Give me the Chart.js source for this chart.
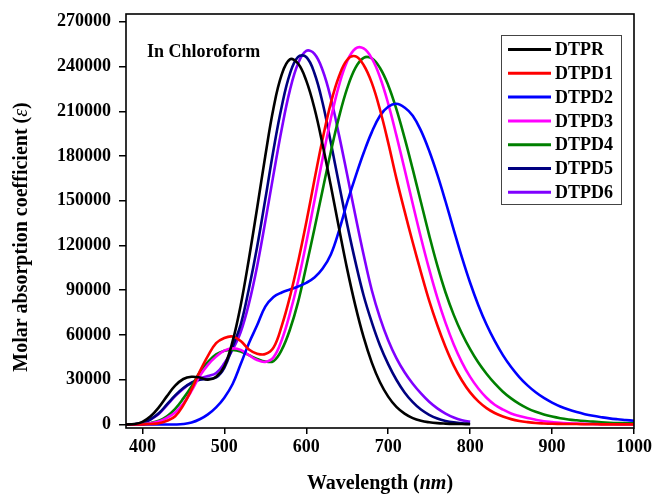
<!DOCTYPE html>
<html><head><meta charset="utf-8">
<script src="https://cdn.jsdelivr.net/npm/chart.js@4.4.1/dist/chart.umd.min.js"></script>
<style>html,body{margin:0;padding:0;background:#fff}</style>
</head><body>
<canvas id="c" width="652" height="494"></canvas>
<script>
// ---- data ----
const wavelengths = [380,390,400,410,420,430,440,450,460,470,480,490,500,510,520,530,540,550,560,570,580,590,600,610,620,630,640,650,660,670,680,690,700,710,720,730,740,750,760,770,780,790,800,810,820,830,840,850,860,870,880,890,900,910,920,930,940,950,960,970,980,990,1000];
const seriesNames = ["DTPR","DTPD1","DTPD2","DTPD3","DTPD4","DTPD5","DTPD6"];
const xTicks = [400,500,600,700,800,900,1000];
const yTicks = [0,30000,60000,90000,120000,150000,180000,210000,240000,270000];

const DTPR = [0,300,1800,5500,11500,19000,26000,30500,32000,31500,
  30000,32000,39000,55500,80000,111000,145000,180000,212000,234500,
  244800,242000,230500,212000,187500,160000,131500,104000,79500,58500,
  41500,28300,18700,11800,7300,4300,2500,1500,900,600,
  400,300,200];
const DTPD1 = [0,0,0,300,800,2500,5500,13000,23500,35500,
  46000,54500,58000,59000,56000,50300,47500,47200,51500,66000,
  85500,109000,135500,164000,191500,215500,233500,244500,246800,241000,
  229000,211000,189000,165000,143000,122000,102000,83000,66500,52000,
  39500,29500,21500,15500,11000,7700,5300,3600,2400,1600,
  1000,700,500,400,300,300,200,200,100,100,
  100,100,100];
const DTPD2 = [0,0,0,0,0,0,0,300,1300,3500,
  6800,11500,18000,27000,40500,54500,66500,79000,85500,88500,
  90500,92500,95000,98500,104500,114000,130000,149000,166000,182000,
  196000,207000,213000,215000,212500,207000,197000,183500,167500,149500,
  130500,112000,95000,80000,67000,56000,46500,38500,31800,26200,
  21600,17800,14700,12100,10000,8300,6900,5800,4900,4100,
  3500,3000,2500];
const DTPD3 = [0,0,200,800,2000,4500,8000,14000,22500,32500,
  40000,45500,49500,51000,50000,46500,43200,42000,45000,56500,
  74300,96000,121800,150000,178400,205000,227400,243600,252000,252100,
  245400,232800,215100,193800,171100,147800,125200,104100,84900,68100,
  53700,41700,31900,24100,17900,13200,10000,7400,5700,4300,
  3200,2200,1600,1100,800,600,400,300,200,200,
  100,100,100];
const DTPD4 = [0,0,300,1000,2500,5500,10500,17500,25500,35000,
  42000,47000,49500,50000,49000,46500,44000,42200,42500,50000,
  63500,82000,106100,131200,157300,182900,206200,225500,239100,245800,
  245400,239000,227500,211400,192100,171000,149000,127000,106500,88500,
  73500,61000,50500,41500,34000,27500,22000,17500,13800,10800,
  8500,6700,5300,4200,3400,2800,2300,1900,1500,1200,
  1000,900,800];
const DTPD5 = [0,200,1000,3500,7500,13500,19500,24500,28000,30000,
  30500,31500,38000,52000,67000,91000,119000,151000,184000,213000,
  235000,246500,246400,235500,215500,189000,161000,134000,109000,86500,
  68500,53000,40500,30000,21500,15000,10000,6500,4000,2400,
  1400,800,500];
const DTPD6 = [0,200,1000,3500,7000,13000,19000,24000,28000,31000,
  32500,34500,41000,50000,62000,81000,106000,136000,167500,198000,
  224000,242000,250500,248500,237500,218700,194000,167200,140000,113800,
  90000,71500,56500,44500,35000,27300,20800,15200,10800,7300,
  4700,2900,1800];

const seriesValues = [DTPR,DTPD1,DTPD2,DTPD3,DTPD4,DTPD5,DTPD6];
const seriesColors = ["#000000","#ff0000","#0000ff","#ff00ff","#008000","#000080","#8000ff"];

const FONT = "'Liberation Serif','Times New Roman',serif";

const datasets = seriesNames.map((name,k)=>({
  label: name,
  data: seriesValues[k].map((v,i)=>({x:wavelengths[i], y:v})),
  borderColor: seriesColors[k],
  backgroundColor: seriesColors[k],
  borderWidth: 2.6,
  pointRadius: 0,
  fill: false,
  tension: 0.4
}));

const decor = {
  id: 'decor',
  afterDatasetsDraw(chart){
    const ctx = chart.ctx, a = chart.chartArea;
    ctx.save();
    // frame
    ctx.strokeStyle = '#000'; ctx.lineWidth = 1.6;
    ctx.strokeRect(a.left, a.top, a.right - a.left, a.bottom - a.top);
    // annotation
    ctx.fillStyle = '#000';
    ctx.font = "bold 18px " + FONT;
    ctx.textBaseline = 'middle'; ctx.textAlign = 'left';
    ctx.fillText('In Chloroform', 147, 52);
    // legend
    ctx.fillStyle = '#fff';
    ctx.fillRect(501.5, 35.5, 120, 169);
    ctx.strokeStyle = '#444'; ctx.lineWidth = 1;
    ctx.strokeRect(501.5, 35.5, 120, 169);
    seriesNames.forEach((n,k)=>{
      const y = 49.5 + k*23.8;
      ctx.strokeStyle = seriesColors[k]; ctx.lineWidth = 3;
      ctx.beginPath(); ctx.moveTo(508, y); ctx.lineTo(551, y); ctx.stroke();
      ctx.fillStyle = '#000';
      ctx.font = "bold 18px " + FONT;
      ctx.fillText(n, 555, y + 1);
    });
    // x title
    const parts = [["Wavelength (", "bold 20px "], ["nm", "italic bold 20px "], [")", "bold 20px "]];
    let w = 0;
    parts.forEach(p=>{ ctx.font = p[1]+FONT; w += ctx.measureText(p[0]).width; });
    let x = (a.left + a.right)/2 - w/2;
    ctx.textAlign = 'left'; ctx.textBaseline = 'middle'; ctx.fillStyle = '#000';
    parts.forEach(p=>{ ctx.font = p[1]+FONT; ctx.fillText(p[0], x, 484); x += ctx.measureText(p[0]).width; });
    // y title
    const yparts = [["Molar absorption coefficient (", "bold 20px "], ["\u03b5", "italic 20px "], [")", "bold 20px "]];
    let wy = 0;
    yparts.forEach(p=>{ ctx.font = p[1]+FONT; wy += ctx.measureText(p[0]).width; });
    ctx.translate(22, 237);
    ctx.rotate(-Math.PI/2);
    let xx = -wy/2;
    yparts.forEach(p=>{ ctx.font = p[1]+FONT; ctx.fillText(p[0], xx, 0); xx += ctx.measureText(p[0]).width; });
    ctx.restore();
  }
};

new Chart(document.getElementById('c'), {
  type: 'line',
  data: { datasets },
  options: {
    responsive: false,
    devicePixelRatio: 1,
    animation: false,
    layout: { padding: { top: 14, right: 18, bottom: 0, left: 0 } },
    plugins: { legend: { display: false }, tooltip: { enabled: false } },
    scales: {
      x: {
        type: 'linear', min: 380, max: 1000,
        afterBuildTicks: s => { s.ticks = xTicks.map(v=>({value:v})); },
        afterFit: s => { s.height = 66; s.paddingRight = 0; s.paddingLeft = 0; },
        border: { display: false },
        grid: { drawOnChartArea: false, drawTicks: true, tickLength: 6, color: '#000', lineWidth: 1.5 },
        ticks: { color: '#000', font: { family: FONT, size: 18, weight: 'bold' }, padding: 3, maxRotation: 0, autoSkip: false,
          callback: v => String(v) }
      },
      y: {
        type: 'linear', min: -2350, max: 275200,
        afterBuildTicks: s => { s.ticks = yTicks.map(v=>({value:v})); },
        afterFit: s => { s.width = 126; s.paddingTop = 0; s.paddingBottom = 0; },
        border: { display: false },
        grid: { drawOnChartArea: false, drawTicks: true, tickLength: 7, color: '#000', lineWidth: 1.5 },
        ticks: { color: '#000', font: { family: FONT, size: 18, weight: 'bold' }, padding: 8, autoSkip: false,
          callback: v => String(v) }
      }
    }
  },
  plugins: [decor]
});
</script>
</body></html>
